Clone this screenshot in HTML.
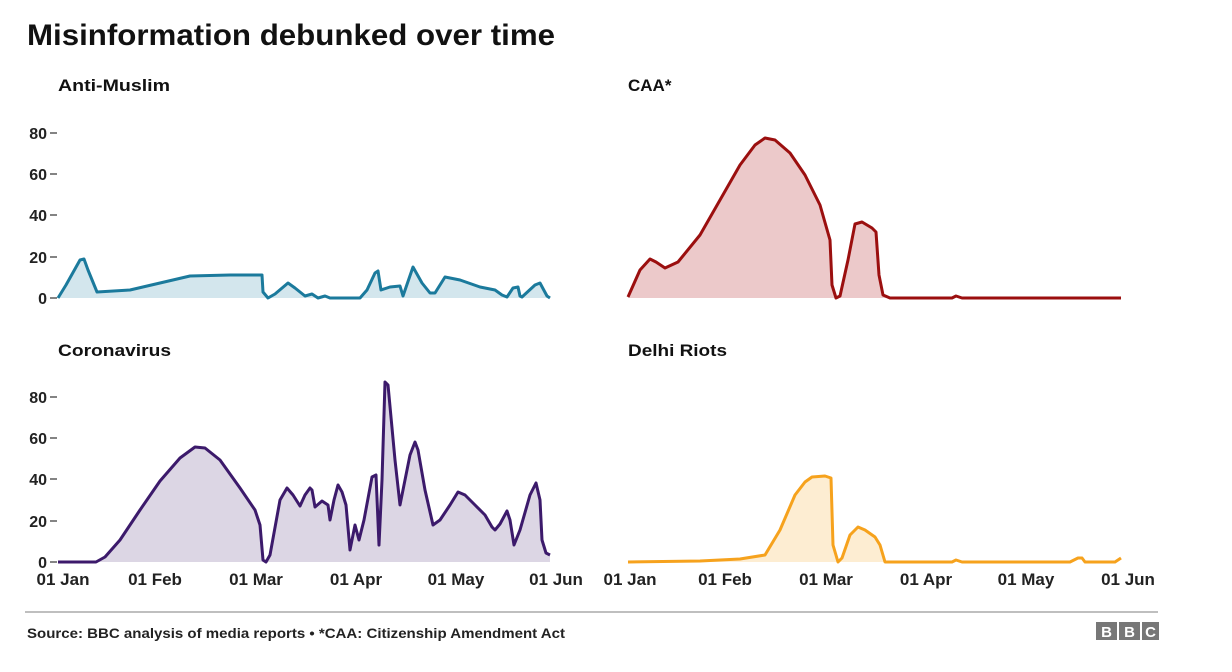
<!DOCTYPE html>
<html><head><meta charset="utf-8"><style>
body{margin:0;background:#fff;}
svg{display:block;font-family:"Liberation Sans",sans-serif;}
.t{font-size:16px;font-weight:bold;fill:#222;}
.s{font-size:17px;font-weight:bold;fill:#111;}
</style></head><body>
<svg width="1232" height="672" viewBox="0 0 1232 672">
<rect width="1232" height="672" fill="#fff"/>
<text x="27" y="45" font-size="30" font-weight="bold" fill="#111" textLength="528" lengthAdjust="spacingAndGlyphs">Misinformation debunked over time</text>
<text class="s" x="58" y="91" textLength="112" lengthAdjust="spacingAndGlyphs">Anti-Muslim</text>
<text class="s" x="628" y="91">CAA*</text>
<text class="s" x="58" y="356" textLength="113" lengthAdjust="spacingAndGlyphs">Coronavirus</text>
<text class="s" x="628" y="356" textLength="99" lengthAdjust="spacingAndGlyphs">Delhi Riots</text>

<g class="t" text-anchor="end">
<text x="47" y="139">80</text><text x="47" y="180">60</text><text x="47" y="221">40</text><text x="47" y="263">20</text><text x="47" y="304">0</text>
<text x="47" y="403">80</text><text x="47" y="444">60</text><text x="47" y="485">40</text><text x="47" y="527">20</text><text x="47" y="568">0</text>
</g>
<g stroke="#333" stroke-width="1.2">
<line x1="50" y1="133" x2="57" y2="133"/><line x1="50" y1="174" x2="57" y2="174"/><line x1="50" y1="215" x2="57" y2="215"/><line x1="50" y1="257" x2="57" y2="257"/><line x1="50" y1="298" x2="57" y2="298"/>
<line x1="50" y1="397" x2="57" y2="397"/><line x1="50" y1="438" x2="57" y2="438"/><line x1="50" y1="479" x2="57" y2="479"/><line x1="50" y1="521" x2="57" y2="521"/><line x1="50" y1="562" x2="57" y2="562"/>
</g>

<polygon fill="#d3e6ed" points="58,298 66,285 80,260 84,259 88,270 97,292 130,290 190,276 230,275 262,275 263,292 268,298 275,294 288,283 295,288 305,296 312,294 318,298 325,296 330,298 360,298 367,290 375,273 378,271 381,290 390,287 400,286 403,296 413,267 422,283 430,293 435,293 445,277 460,280 480,287 495,290 502,295 507,297 513,288 518,287 520,296 522,297 535,285 540,283 547,296 550,298"/>
<polyline fill="none" stroke="#1b7a9c" stroke-width="3" stroke-linejoin="round" points="58,298 66,285 80,260 84,259 88,270 97,292 130,290 190,276 230,275 262,275 263,292 268,298 275,294 288,283 295,288 305,296 312,294 318,298 325,296 330,298 360,298 367,290 375,273 378,271 381,290 390,287 400,286 403,296 413,267 422,283 430,293 435,293 445,277 460,280 480,287 495,290 502,295 507,297 513,288 518,287 520,296 522,297 535,285 540,283 547,296 550,298"/>

<polygon fill="#dcd6e4" points="58,562 96,562 105,557 120,540 140,510 160,481 180,458 195,447 205,448 220,460 240,488 255,510 260,525 263,560 266,562 270,555 280,500 287,488 293,495 300,506 305,495 310,488 312,490 315,507 322,501 328,505 330,520 334,500 338,485 342,492 346,505 350,550 355,525 359,540 364,520 372,477 376,475 379,545 382,480 385,382 388,385 395,460 400,505 410,455 415,442 418,450 425,490 433,525 440,520 450,505 458,492 465,495 475,505 485,515 492,527 495,530 500,524 507,511 510,520 514,545 520,530 530,495 536,483 540,500 542,540 546,553 550,555 550,562"/>
<polyline fill="none" stroke="#3c1a6b" stroke-width="3" stroke-linejoin="round" points="58,562 96,562 105,557 120,540 140,510 160,481 180,458 195,447 205,448 220,460 240,488 255,510 260,525 263,560 266,562 270,555 280,500 287,488 293,495 300,506 305,495 310,488 312,490 315,507 322,501 328,505 330,520 334,500 338,485 342,492 346,505 350,550 355,525 359,540 364,520 372,477 376,475 379,545 382,480 385,382 388,385 395,460 400,505 410,455 415,442 418,450 425,490 433,525 440,520 450,505 458,492 465,495 475,505 485,515 492,527 495,530 500,524 507,511 510,520 514,545 520,530 530,495 536,483 540,500 542,540 546,553 550,555"/>

<polygon fill="#ecc9ca" points="628,297 640,270 650,259 656,262 665,268 678,262 700,235 720,200 740,165 755,145 765,138 775,140 790,153 805,175 820,205 830,240 832,285 836,298 840,296 848,260 855,224 862,222 872,228 876,232 879,275 883,295 890,298 628,298"/>
<polyline fill="none" stroke="#9b0f0f" stroke-width="3" stroke-linejoin="round" points="628,297 640,270 650,259 656,262 665,268 678,262 700,235 720,200 740,165 755,145 765,138 775,140 790,153 805,175 820,205 830,240 832,285 836,298 840,296 848,260 855,224 862,222 872,228 876,232 879,275 883,295 890,298 952,298 956,296 962,298 1121,298"/>

<polygon fill="#fdedd2" points="628,562 700,561 740,559 765,555 780,530 795,495 805,482 812,477 825,476 831,478 833,545 838,562 842,558 850,535 858,527 865,530 875,537 880,545 885,562"/>
<polyline fill="none" stroke="#f6a21d" stroke-width="3" stroke-linejoin="round" points="628,562 700,561 740,559 765,555 780,530 795,495 805,482 812,477 825,476 831,478 833,545 838,562 842,558 850,535 858,527 865,530 875,537 880,545 885,562 952,562 956,560 962,562 1070,562 1078,558 1082,558 1085,562 1115,562 1121,558"/>

<g class="t" font-size="17" text-anchor="middle" style="font-size:17px">
<text x="63" y="585">01 Jan</text><text x="155" y="585">01 Feb</text><text x="256" y="585">01 Mar</text><text x="356" y="585">01 Apr</text><text x="456" y="585">01 May</text><text x="556" y="585">01 Jun</text>
<text x="630" y="585">01 Jan</text><text x="725" y="585">01 Feb</text><text x="826" y="585">01 Mar</text><text x="926" y="585">01 Apr</text><text x="1026" y="585">01 May</text><text x="1128" y="585">01 Jun</text>
</g>

<line x1="25" y1="612" x2="1158" y2="612" stroke="#aaa" stroke-width="1.5"/>
<text x="27" y="638" font-size="14" font-weight="bold" fill="#222" textLength="538" lengthAdjust="spacingAndGlyphs">Source: BBC analysis of media reports • *CAA: Citizenship Amendment Act</text>
<g fill="#777"><rect x="1096" y="622" width="21" height="18"/><rect x="1119" y="622" width="21" height="18"/><rect x="1142" y="622" width="17" height="18"/></g>
<g fill="#fff" font-size="15" font-weight="bold" text-anchor="middle"><text x="1106.5" y="637">B</text><text x="1129.5" y="637">B</text><text x="1150.5" y="637">C</text></g>
</svg>
</body></html>
